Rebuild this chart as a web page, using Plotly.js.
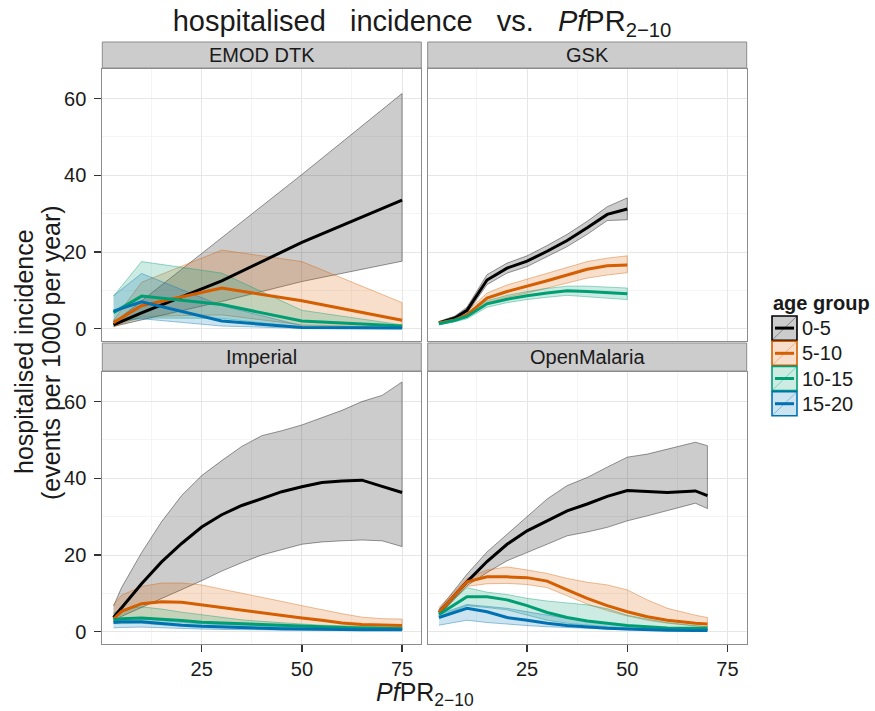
<!DOCTYPE html>
<html>
<head>
<meta charset="utf-8">
<script src="https://cdn.plot.ly/plotly-3.0.1.min.js"></script>
<style>
  html, body { margin: 0; padding: 0; background: #ffffff; }
  #chart { width: 875px; height: 711px; }
</style>
</head>
<body>
<div id="chart"></div>
<script>
// Age groups and their colours
const ageGroups = ['0-5', '5-10', '10-15', '15-20'];
const groupColours = ['#000000', '#D55E00', '#009E73', '#0072B2'];
const modelNames = ['EMOD DTK', 'GSK', 'Imperial', 'OpenMalaria'];

// x tick labels (PfPR 2-10, %) and y tick labels
const xTicks = [25, 50, 75];
const yTicks = [0, 20, 40, 60];

// EMOD DTK: median and 95% band per age group (events per 1000 per year)
const emodX = [3, 10, 30, 50, 75];
const emodMean = [
  [1.0, 4.1, 12.5, 22.5, 33.5],
  [1.6, 6.0, 10.6, 7.3, 2.2],
  [4.2, 8.5, 6.3, 2.0, 0.7],
  [4.6, 7.0, 2.0, 0.3, 0.2]
];
const emodLower = [
  [0.6, 2.3, 7.1, 12.3, 17.6],
  [0.5, 3.2, 3.6, 1.0, 0.3],
  [1.3, 2.8, 2.7, 0.4, 0.1],
  [2.2, 2.6, 0.7, 0.1, 0.0]
];
const emodUpper = [
  [1.5, 7.3, 23.7, 40.2, 61.3],
  [2.2, 12.1, 20.5, 17.5, 6.8],
  [8.5, 17.5, 14.5, 4.8, 1.0],
  [8.6, 14.4, 6.0, 0.8, 0.3]
];

// GSK (no 15-20 group)
const gskX = [3, 7, 10, 15, 20, 25, 30, 35, 40, 45, 50];
const gskMean = [
  [1.5, 2.8, 4.8, 12.7, 15.8, 17.6, 20.2, 23.0, 26.3, 29.8, 31.2],
  [1.5, 2.3, 3.6, 8.0, 9.7, 11.0, 12.5, 14.0, 15.5, 16.4, 16.6],
  [1.3, 2.2, 3.2, 6.5, 7.7, 8.6, 9.3, 9.9, 9.7, 9.4, 9.1],
  null
];
const gskLower = [
  [1.1, 2.3, 4.0, 11.5, 14.5, 16.2, 18.7, 21.4, 24.6, 28.2, 28.4],
  [1.1, 1.9, 3.0, 6.8, 8.2, 9.3, 10.5, 11.9, 13.2, 14.0, 14.6],
  [1.0, 1.8, 2.6, 5.6, 6.8, 7.6, 8.2, 8.7, 8.4, 8.0, 7.6],
  null
];
const gskUpper = [
  [1.9, 3.3, 5.6, 14.1, 17.1, 19.0, 21.7, 24.6, 28.0, 31.8, 34.1],
  [1.8, 2.8, 4.5, 9.3, 11.4, 12.9, 14.5, 16.0, 17.5, 18.4, 19.0],
  [1.6, 2.6, 3.8, 7.3, 8.7, 9.7, 10.5, 11.1, 11.1, 10.9, 10.6],
  null
];

// Imperial
const impX = [3, 5, 10, 15, 20, 25, 30, 35, 40, 45, 50, 55, 60, 65, 70, 75];
const impMean = [
  [3.7, 6.3, 12.5, 18.2, 23.0, 27.3, 30.5, 32.9, 34.8, 36.5, 37.8, 38.9, 39.3, 39.5, 37.9, 36.3],
  [3.3, 5.3, 7.3, 7.8, 7.7, 7.0, 6.3, 5.7, 5.0, 4.3, 3.6, 3.0, 2.3, 1.9, 1.7, 1.6],
  [3.1, 3.4, 3.6, 3.3, 2.9, 2.5, 2.3, 2.0, 1.8, 1.6, 1.4, 1.2, 1.1, 1.0, 0.9, 0.8],
  [2.4, 2.6, 2.6, 2.1, 1.7, 1.4, 1.2, 1.0, 0.9, 0.8, 0.7, 0.6, 0.6, 0.5, 0.5, 0.5]
];
const impLower = [
  [2.6, 4.0, 6.5, 8.8, 11.0, 13.3, 15.8, 18.0, 20.0, 21.5, 22.8, 23.4, 23.7, 23.9, 23.7, 22.2],
  [2.7, 3.2, 3.6, 3.3, 3.0, 2.6, 2.3, 2.1, 1.9, 1.7, 1.5, 1.4, 1.2, 1.1, 1.0, 1.0],
  [2.1, 2.2, 2.2, 1.8, 1.6, 1.4, 1.3, 1.2, 1.1, 1.0, 0.9, 0.8, 0.7, 0.6, 0.6, 0.5],
  [1.0, 1.1, 1.2, 1.0, 0.8, 0.7, 0.6, 0.5, 0.5, 0.4, 0.4, 0.4, 0.3, 0.3, 0.3, 0.3]
];
const impUpper = [
  [6.7, 11.5, 20.6, 28.7, 35.5, 40.7, 44.6, 48.3, 51.1, 52.4, 53.9, 55.9, 57.7, 60.0, 61.6, 65.1],
  [7.0, 9.5, 11.8, 12.7, 12.7, 12.2, 11.1, 10.1, 9.0, 7.9, 6.8, 5.7, 4.7, 3.8, 3.4, 3.3],
  [4.9, 5.8, 6.5, 5.9, 5.1, 4.4, 3.7, 3.1, 2.7, 2.3, 2.0, 1.7, 1.5, 1.4, 1.3, 1.2],
  [3.1, 3.4, 3.4, 2.9, 2.5, 2.1, 1.9, 1.7, 1.5, 1.4, 1.3, 1.2, 1.1, 1.0, 0.9, 0.9]
];

// OpenMalaria
const omX = [3, 10, 15, 20, 25, 30, 35, 40, 45, 50, 55, 60, 67, 70];
const omMean = [
  [5.0, 13.0, 18.3, 22.8, 26.3, 28.9, 31.5, 33.3, 35.3, 36.8, 36.5, 36.3, 36.7, 35.5],
  [5.0, 13.0, 14.3, 14.3, 14.1, 13.2, 10.9, 8.7, 6.8, 5.2, 3.9, 3.0, 2.2, 2.0],
  [4.5, 9.1, 9.1, 8.3, 6.8, 5.0, 3.7, 2.8, 2.2, 1.6, 1.3, 1.0, 0.9, 0.9],
  [3.7, 6.1, 5.2, 3.7, 3.0, 2.2, 1.6, 1.2, 0.9, 0.7, 0.5, 0.4, 0.3, 0.3]
];
const omLower = [
  [4.2, 12.0, 15.4, 18.5, 20.6, 22.8, 25.0, 26.0, 27.2, 28.9, 30.2, 31.5, 33.5, 32.1],
  [4.3, 11.8, 12.5, 12.6, 12.3, 11.5, 9.3, 7.2, 5.5, 4.1, 3.0, 2.2, 1.5, 1.3],
  [3.9, 6.8, 6.3, 5.7, 4.3, 3.0, 2.2, 1.7, 1.3, 1.0, 0.8, 0.6, 0.5, 0.4],
  [1.7, 3.0, 2.4, 1.9, 1.6, 1.3, 1.0, 0.8, 0.7, 0.5, 0.4, 0.3, 0.3, 0.3]
];
const omUpper = [
  [5.8, 15.0, 20.8, 25.4, 29.8, 34.6, 38.1, 40.2, 42.9, 45.5, 46.3, 47.6, 49.4, 48.5],
  [6.3, 13.9, 16.1, 16.9, 16.1, 15.2, 13.9, 12.9, 12.2, 10.9, 8.3, 6.1, 4.3, 3.7],
  [5.2, 11.5, 10.3, 9.7, 8.7, 8.0, 7.5, 7.0, 6.0, 4.3, 3.3, 2.4, 1.6, 1.3],
  [4.5, 7.1, 6.6, 6.1, 5.2, 4.3, 3.5, 2.8, 2.2, 1.7, 1.3, 1.0, 0.8, 0.7]
];

// ---------------------------------------------------------------------------
const W = 875, H = 711;
const px = v => v / W;          // pixel -> paper x
const py = v => 1 - v / H;      // pixel -> paper y

function rgba(hex, a) {
  const n = parseInt(hex.slice(1), 16);
  return 'rgba(' + ((n >> 16) & 255) + ',' + ((n >> 8) & 255) + ',' + (n & 255) + ',' + a + ')';
}

const panels = [
  { x: emodX, mean: emodMean, lower: emodLower, upper: emodUpper, xa: 'x',  ya: 'y'  },
  { x: gskX,  mean: gskMean,  lower: gskLower,  upper: gskUpper,  xa: 'x2', ya: 'y2' },
  { x: impX,  mean: impMean,  lower: impLower,  upper: impUpper,  xa: 'x3', ya: 'y3' },
  { x: omX,   mean: omMean,   lower: omLower,   upper: omUpper,   xa: 'x4', ya: 'y4' }
];

const traces = [];
panels.forEach(p => {
  // uncertainty ribbons first
  ageGroups.forEach((g, i) => {
    if (!p.mean[i]) return;
    traces.push({
      type: 'scatter', mode: 'lines', xaxis: p.xa, yaxis: p.ya,
      x: p.x.concat(p.x.slice().reverse()),
      y: p.upper[i].concat(p.lower[i].slice().reverse()),
      fill: 'toself', fillcolor: rgba(groupColours[i], 0.2),
      line: { color: rgba(groupColours[i], 0.5), width: 0.8 },
      hoverinfo: 'skip', showlegend: false
    });
  });
  // central lines on top
  ageGroups.forEach((g, i) => {
    if (!p.mean[i]) return;
    traces.push({
      type: 'scatter', mode: 'lines', xaxis: p.xa, yaxis: p.ya,
      x: p.x, y: p.mean[i], name: g,
      line: { color: groupColours[i], width: 3 },
      showlegend: false
    });
  });
});

// panel geometry in pixels
const colX = [[102.3, 421.3], [427.7, 746.7]];
const rowY = [[69, 341], [372, 644]];
const stripY = [[42, 68], [343, 371]];

const gridCol = '#e6e6e6';
const minorCol = '#f4f4f4';
const textCol = '#1a1a1a';

function xAxis(col, row, showLabels) {
  return {
    domain: [px(colX[col][0]), px(colX[col][1])],
    anchor: ['y', 'y2', 'y3', 'y4'][row * 2 + col],
    range: [0.2, 79.8], tickmode: 'array', tickvals: xTicks,
    showticklabels: showLabels, ticks: showLabels ? 'outside' : '',
    ticklen: 7, tickwidth: 1.3, tickcolor: '#333333',
    tickfont: { size: 20, color: textCol },
    showgrid: true, gridcolor: gridCol, gridwidth: 1,
    minor: { tickmode: 'array', tickvals: [12.5, 37.5, 62.5], showgrid: true,
             gridcolor: minorCol, gridwidth: 1, ticks: '' },
    zeroline: false, showline: true, mirror: true, linecolor: '#8c8c8c', linewidth: 1,
    fixedrange: true
  };
}
function yAxis(col, row, showLabels) {
  return {
    domain: [py(rowY[row][1]), py(rowY[row][0])],
    anchor: ['x', 'x2', 'x3', 'x4'][row * 2 + col],
    range: [-3.2, 67.7], tickmode: 'array', tickvals: yTicks,
    showticklabels: showLabels, ticks: showLabels ? 'outside' : '',
    ticklen: 7, tickwidth: 1.3, tickcolor: '#333333',
    ticklabelstandoff: 4,
    tickfont: { size: 20, color: textCol },
    showgrid: true, gridcolor: gridCol, gridwidth: 1,
    minor: { tickmode: 'array', tickvals: [10, 30, 50], showgrid: true,
             gridcolor: minorCol, gridwidth: 1, ticks: '' },
    zeroline: false, showline: true, mirror: true, linecolor: '#8c8c8c', linewidth: 1,
    fixedrange: true
  };
}

const shapes = [];
const annotations = [];

// facet strips
modelNames.forEach((m, k) => {
  const col = k % 2, row = Math.floor(k / 2);
  shapes.push({
    type: 'rect', xref: 'paper', yref: 'paper',
    x0: px(colX[col][0]), x1: px(colX[col][1]),
    y0: py(stripY[row][1]), y1: py(stripY[row][0]),
    fillcolor: '#cccccc', line: { color: '#8c8c8c', width: 1 }, layer: 'above'
  });
  annotations.push({
    xref: 'paper', yref: 'paper',
    x: px((colX[col][0] + colX[col][1]) / 2), y: py((stripY[row][0] + stripY[row][1]) / 2),
    xanchor: 'center', yanchor: 'middle', showarrow: false,
    text: m, font: { size: 20, color: textCol }
  });
});

// axis titles
annotations.push({
  xref: 'paper', yref: 'paper', x: px(424.5), y: py(694),
  xanchor: 'center', yanchor: 'middle', showarrow: false,
  text: '<i>Pf</i>PR<sub>2\u221210</sub>', font: { size: 25, color: textCol }
});
annotations.push({
  xref: 'paper', yref: 'paper', x: px(24), y: py(352),
  xanchor: 'center', yanchor: 'middle', showarrow: false, textangle: -90,
  text: 'hospitalised incidence', font: { size: 25, color: textCol }
});
annotations.push({
  xref: 'paper', yref: 'paper', x: px(51), y: py(353),
  xanchor: 'center', yanchor: 'middle', showarrow: false, textangle: -90,
  text: '(events per 1000 per year)', font: { size: 25, color: textCol }
});

// legend
const legX0 = 772, legX1 = 797, legTop = 316, legRow = 25.2;
annotations.push({
  xref: 'paper', yref: 'paper', x: px(771), y: py(303),
  xanchor: 'left', yanchor: 'middle', showarrow: false,
  text: '<b>age group</b>', font: { size: 20, color: textCol }
});
ageGroups.forEach((g, i) => {
  const y0 = legTop + i * legRow, y1 = y0 + legRow - 1;
  const c = groupColours[i];
  shapes.push({
    type: 'rect', xref: 'paper', yref: 'paper',
    x0: px(legX0), x1: px(legX1), y0: py(y1), y1: py(y0),
    fillcolor: rgba(c, 0.2), line: { color: c, width: 1.6 }
  });
  shapes.push({
    type: 'line', xref: 'paper', yref: 'paper',
    x0: px(legX0 + 1), x1: px(legX1 - 1), y0: py(y1 - 1), y1: py(y0 + 1),
    line: { color: rgba(c, 0.45), width: 0.8 }
  });
  shapes.push({
    type: 'line', xref: 'paper', yref: 'paper',
    x0: px(legX0 + 3), x1: px(legX1 - 3), y0: py((y0 + y1) / 2), y1: py((y0 + y1) / 2),
    line: { color: c, width: 3 }
  });
  annotations.push({
    xref: 'paper', yref: 'paper', x: px(800), y: py((y0 + y1) / 2),
    xanchor: 'left', yanchor: 'middle', showarrow: false,
    text: g, font: { size: 20, color: textCol }
  });
});

const layout = {
  width: W, height: H,
  margin: { l: 0, r: 0, t: 0, b: 0, autoexpand: false },
  paper_bgcolor: '#ffffff', plot_bgcolor: '#ffffff',
  font: { family: 'Liberation Sans, Arial, Helvetica, sans-serif', color: textCol },
  showlegend: false,
  title: {
    text: 'hospitalised&nbsp;&nbsp; incidence&nbsp;&nbsp; vs.&nbsp;&nbsp; <i>Pf</i>PR<sub>2\u221210</sub>',
    font: { size: 29, color: textCol },
    x: px(422), xanchor: 'center', y: py(21), yanchor: 'middle'
  },
  xaxis:  xAxis(0, 0, false),
  xaxis2: xAxis(1, 0, false),
  xaxis3: xAxis(0, 1, true),
  xaxis4: xAxis(1, 1, true),
  yaxis:  yAxis(0, 0, true),
  yaxis2: yAxis(1, 0, false),
  yaxis3: yAxis(0, 1, true),
  yaxis4: yAxis(1, 1, false),
  shapes: shapes,
  annotations: annotations
};

Plotly.newPlot('chart', traces, layout, { staticPlot: true, displayModeBar: false });
</script>
</body>
</html>
